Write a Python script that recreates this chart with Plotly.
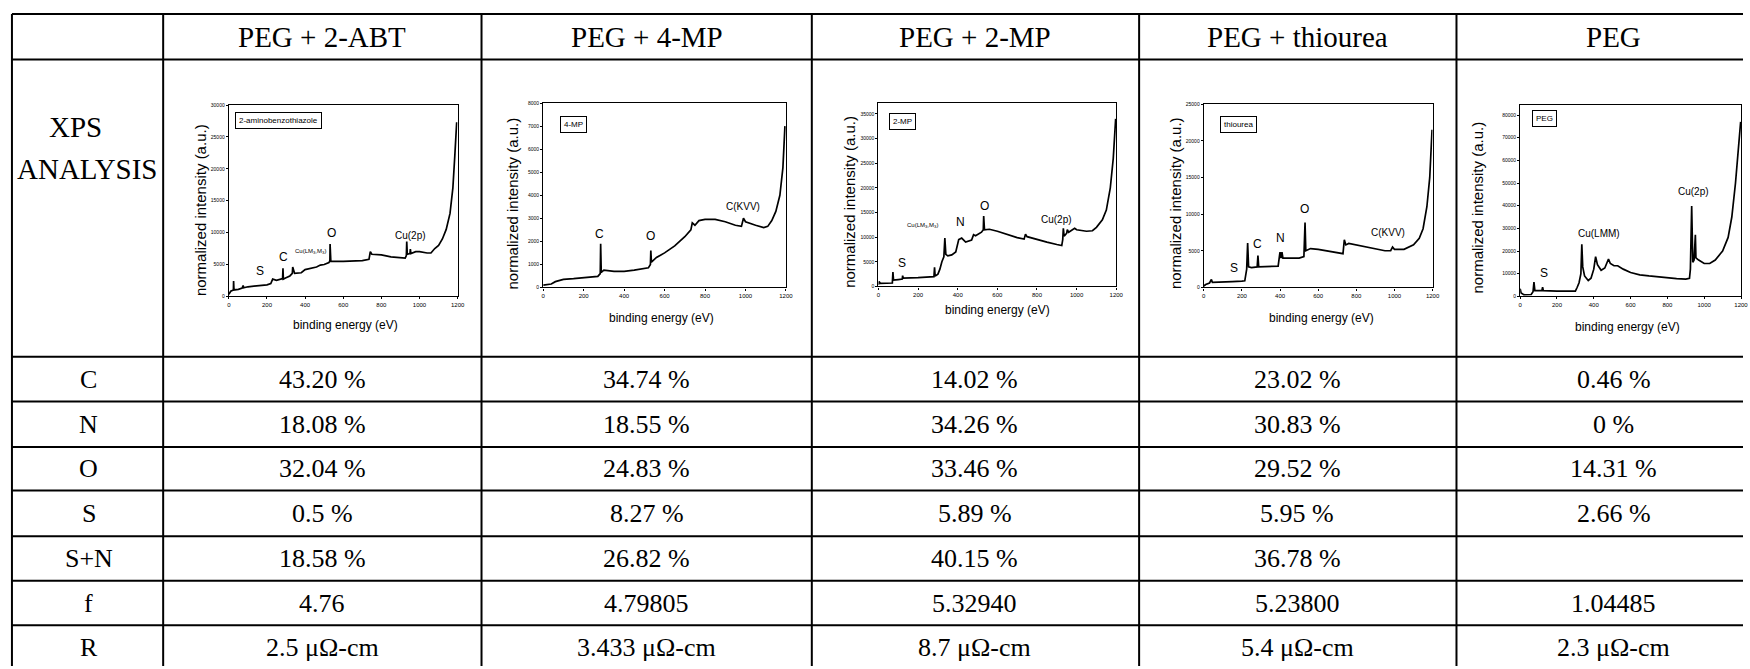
import plotly.graph_objects as go

W, H = 1750, 669

# ---------------- table data ----------------
col_headers = ["PEG + 2-ABT", "PEG + 4-MP", "PEG + 2-MP", "PEG + thiourea", "PEG"]
row_labels = ["C", "N", "O", "S", "S+N", "f", "R"]
C_vals = ["43.20 %", "34.74 %", "14.02 %", "23.02 %", "0.46 %"]
N_vals = ["18.08 %", "18.55 %", "34.26 %", "30.83 %", "0 %"]
O_vals = ["32.04 %", "24.83 %", "33.46 %", "29.52 %", "14.31 %"]
S_vals = ["0.5 %", "8.27 %", "5.89 %", "5.95 %", "2.66 %"]
SN_vals = ["18.58 %", "26.82 %", "40.15 %", "36.78 %", ""]
f_vals = ["4.76", "4.79805", "5.32940", "5.23800", "1.04485"]
R_vals = ["2.5 μΩ-cm", "3.433 μΩ-cm", "8.7 μΩ-cm", "5.4 μΩ-cm", "2.3 μΩ-cm"]
table_rows = [C_vals, N_vals, O_vals, S_vals, SN_vals, f_vals, R_vals]

# ---------------- XPS spectra (binding energy eV, intensity a.u.) ----------------
abt_x = [0, 10, 24, 25, 27, 50, 70, 75, 78, 100, 150, 200, 220, 230, 250, 270, 282, 284, 286,
         300, 320, 333, 335, 345, 380, 400, 430, 460, 480, 500, 525, 530, 531, 535, 600, 700,
         735, 742, 750, 800, 850, 900, 925, 931, 933, 936, 950, 952, 955, 980, 1000, 1040,
         1060, 1080, 1100, 1120, 1140, 1160, 1175, 1185, 1195]
abt_y = [300, 800, 1000, 2400, 1000, 1100, 1300, 1700, 1350, 1500, 1600, 1800, 2000, 2700,
         2500, 2700, 2800, 4400, 2700, 2900, 3200, 3600, 4600, 3600, 3700, 4200, 4400, 4600,
         4900, 5000, 5300, 5600, 8200, 5500, 5500, 5600, 5800, 7000, 6600, 6500, 6200, 6000,
         6000, 6400, 8600, 6600, 6700, 7400, 6700, 7000, 7000, 6800, 6800, 7500, 8000, 9000,
         10500, 13000, 17000, 22000, 27300]

mp4_x = [0, 20, 40, 60, 100, 150, 200, 250, 270, 282, 284, 287, 300, 350, 400, 450, 500, 520,
         530, 532, 535, 560, 600, 650, 700, 730, 737, 750, 770, 800, 850, 900, 950, 980, 990,
         1000, 1050, 1090, 1110, 1130, 1150, 1170, 1185, 1195]
mp4_y = [100, 120, 150, 250, 350, 380, 420, 450, 480, 600, 1890, 650, 750, 700, 700, 750, 800,
         850, 1000, 1600, 1100, 1300, 1500, 1800, 2200, 2500, 2800, 2700, 2900, 2950, 2950,
         2850, 2700, 2650, 3000, 2850, 2700, 2600, 2650, 2900, 3300, 4000, 5200, 7000]

mp2_x = [0, 3, 10, 50, 70, 73, 76, 100, 120, 122, 125, 200, 270, 280, 283, 286, 300, 310, 320,
         330, 335, 340, 350, 370, 390, 405, 420, 440, 470, 480, 490, 520, 529, 531, 535, 560,
         600, 650, 700, 735, 742, 750, 800, 850, 900, 925, 930, 933, 937, 950, 953, 960, 990,
         1000, 1050, 1080, 1100, 1130, 1150, 1170, 1185, 1197]
mp2_y = [300, 1000, 600, 600, 700, 2900, 1300, 1400, 1500, 2200, 1700, 1800, 1900, 2000, 3900,
         2100, 2500, 3500, 5000, 6000, 9800, 6500, 6200, 6400, 7000, 9500, 9800, 9000, 9400,
         10500, 10300, 11000, 11500, 14300, 11500, 11600, 11200, 10500, 9900, 9600, 10600,
         10100, 9500, 9000, 8500, 8300, 9500, 11800, 10200, 10800, 11500, 11000, 11800, 11500,
         11200, 11300, 12000, 13500, 15500, 20000, 26000, 34000]

thio_x = [0, 10, 30, 40, 45, 60, 100, 150, 200, 215, 225, 230, 235, 250, 280, 284, 288, 350,
          390, 398, 400, 405, 410, 415, 450, 500, 525, 531, 535, 560, 600, 650, 700, 730, 737,
          745, 760, 800, 850, 900, 950, 980, 990, 1000, 1050, 1100, 1130, 1150, 1170, 1185, 1197]
thio_y = [200, 400, 600, 1080, 700, 700, 800, 800, 850, 900, 2500, 6060, 2800, 2700, 2800,
          4350, 2800, 2800, 2900, 4500, 4800, 4000, 4800, 4000, 4000, 4000, 4200, 8850, 5000,
          5300, 5200, 5000, 4800, 4600, 6500, 5800, 6000, 5800, 5500, 5200, 5000, 5000, 5500,
          5200, 5200, 5800, 6700, 8000, 11000, 15000, 21500]

peg_x = [0, 5, 20, 60, 70, 75, 80, 100, 118, 122, 126, 200, 300, 310, 320, 330, 335, 340, 350,
         370, 385, 400, 410, 420, 440, 460, 480, 490, 510, 530, 560, 600, 650, 700, 750, 800,
         850, 900, 920, 925, 932, 938, 945, 952, 955, 970, 1000, 1030, 1060, 1090, 1100, 1130,
         1150, 1170, 1185, 1198]
peg_y = [3400, 1500, 700, 800, 2000, 6300, 2500, 2500, 2500, 4000, 2500, 2300, 2300, 4000,
         6000, 10000, 23000, 13000, 9000, 7000, 8000, 12000, 17500, 14000, 11500, 12500, 16500,
         14500, 13500, 13500, 12000, 10500, 9500, 9000, 8500, 8200, 7800, 7600, 8000, 12000,
         39900, 15000, 16000, 27200, 17000, 16000, 14500, 14500, 16000, 19000, 20000, 26000,
         35000, 50000, 65000, 77000]

spectra = [(abt_x, abt_y), (mp4_x, mp4_y), (mp2_x, mp2_y), (thio_x, thio_y), (peg_x, peg_y)]
legend_names = ["2-aminobenzothiazole", "4-MP", "2-MP", "thiourea", "PEG"]
y_tops = [30000, 8000, 37200, 25000, 84400]
y_dticks = [5000, 1000, 5000, 5000, 10000]

# peak labels: (text, eV, intensity)
peak_labels = [
    [("S", 165, 3900), ("C", 287, 6200), ("Cu(LM<sub>3</sub>,M<sub>3</sub>)", 430, 7000),
     ("O", 539, 10000), ("Cu(2p)", 951, 9600)],
    [("C", 280, 2340), ("O", 531, 2240), ("C(KVV)", 990, 3530)],
    [("S", 120, 4700), ("Cu(LM<sub>3</sub>,M<sub>3</sub>)", 221, 12400), ("N", 413, 13000),
     ("O", 536, 16300), ("Cu(2p)", 899, 13600)],
    [("S", 156, 2650), ("C", 284, 5900), ("N", 402, 6700), ("O", 529, 10700),
     ("C(KVV)", 966, 7500)],
    [("S", 132, 10200), ("Cu(LMM)", 430, 27700), ("Cu(2p)", 944, 46400)],
]

# ---------------- layout geometry (pixels) ----------------
col_x = [10, 162, 482, 814, 1143, 1462]
row_y = [11, 57, 357, 402, 448, 492, 538, 583, 628]
col_centers = [87, 322, 648, 978, 1302, 1620]
plot_boxes = [(228, 458, 103, 296), (544, 788, 101, 287), (881, 1120, 101, 286),
              (1208, 1438, 102, 287), (1526, 1748, 103, 296)]
ytitle_pos = [(199, 209), (513, 202), (852, 201), (1179, 202), (1483, 206)]
xtitle_pos = [(345, 325), (663, 318), (1001, 310), (1326, 318), (1634, 327)]
legend_pos = [(30, 28900), (82, 7460), (54, 35100), (85, 23400), (63, 82200)]


def px(x):
    return x / W


def py(y):
    return 1 - y / H


SERIF = "Liberation Serif"
SANS = "Liberation Sans"

fig = go.Figure()
layout = dict(width=W, height=H, autosize=False, margin=dict(l=0, r=0, t=0, b=0),
              paper_bgcolor="white", plot_bgcolor="white", showlegend=False)
annotations = []
shapes = []

for i, ((xs, ys), box) in enumerate(zip(spectra, plot_boxes)):
    n = i + 1
    xa = "x" if n == 1 else f"x{n}"
    ya = "y" if n == 1 else f"y{n}"
    fig.add_trace(go.Scatter(x=xs, y=ys, mode="lines", xaxis=xa, yaxis=ya,
                             line=dict(color="black", width=1.7), hoverinfo="skip"))
    x0, x1, y0, y1 = box
    axis_common = dict(showline=True, mirror=True, linecolor="black", linewidth=1.2,
                       showgrid=False, zeroline=False, ticks="outside", ticklen=2,
                       tickwidth=1, tickcolor="black")
    layout["xaxis" if n == 1 else f"xaxis{n}"] = dict(
        domain=[px(x0), px(x1)], range=[0, 1200], dtick=200, tick0=0,
        anchor=ya, tickfont=dict(family=SANS, size=6, color="black"), **axis_common)
    layout["yaxis" if n == 1 else f"yaxis{n}"] = dict(
        domain=[py(y1), py(y0)], range=[0, y_tops[i]], dtick=y_dticks[i], tick0=0,
        tickformat="d", anchor=xa, tickfont=dict(family=SANS, size=5, color="black"),
        **axis_common)
    # axis titles
    annotations.append(dict(text="normalized intensity (a.u.)", xref="paper", yref="paper",
                            x=px(ytitle_pos[i][0]), y=py(ytitle_pos[i][1]), showarrow=False,
                            textangle=-90, xanchor="center", yanchor="middle",
                            font=dict(family=SANS, size=15, color="black")))
    annotations.append(dict(text="binding energy (eV)", xref="paper", yref="paper",
                            x=px(xtitle_pos[i][0]), y=py(xtitle_pos[i][1]), showarrow=False,
                            xanchor="center", yanchor="middle",
                            font=dict(family=SANS, size=12, color="black")))
    # legend box
    lx, ly = legend_pos[i]
    annotations.append(dict(text=legend_names[i], xref=xa, yref=ya, x=lx, y=ly,
                            showarrow=False, xanchor="left", yanchor="top",
                            bordercolor="black", borderwidth=1, borderpad=3,
                            bgcolor="white",
                            font=dict(family=SANS, size=8, color="black")))
    # peak labels
    for (t, ex, ey) in peak_labels[i]:
        small = t.startswith("Cu(L") and "sub" in t
        size = 6 if small else (10 if len(t) > 1 else 12)
        annotations.append(dict(text=t, xref=xa, yref=ya, x=ex, y=ey, showarrow=False,
                                xanchor="center", yanchor="middle",
                                font=dict(family=SANS, size=size, color="black")))

# ---------------- table lines ----------------
for x in col_x:
    shapes.append(dict(type="line", xref="paper", yref="paper", x0=px(x), x1=px(x),
                       y0=py(row_y[0]), y1=0, line=dict(color="black", width=2)))
for y in row_y:
    shapes.append(dict(type="line", xref="paper", yref="paper", x0=px(col_x[0]), x1=1,
                       y0=py(y), y1=py(y), line=dict(color="black", width=2)))

# ---------------- table text ----------------
for j, h in enumerate(col_headers):
    annotations.append(dict(text=h, xref="paper", yref="paper", x=px(col_centers[j + 1]),
                            y=py((row_y[0] + row_y[1]) / 2), showarrow=False,
                            xanchor="center", yanchor="middle",
                            font=dict(family=SERIF, size=29, color="black")))
annotations.append(dict(text="XPS", xref="paper", yref="paper", x=px(74), y=py(125),
                        showarrow=False, xanchor="center", yanchor="middle",
                        font=dict(family=SERIF, size=29, color="black")))
annotations.append(dict(text="ANALYSIS", xref="paper", yref="paper", x=px(86), y=py(168),
                        showarrow=False, xanchor="center", yanchor="middle",
                        font=dict(family=SERIF, size=29, color="black")))

row_centers = [(row_y[k] + (row_y[k + 1] if k + 1 < len(row_y) else row_y[k] + 45)) / 2
               for k in range(2, len(row_y))]
for r, (lab, vals) in enumerate(zip(row_labels, table_rows)):
    yc = py(row_centers[r])
    annotations.append(dict(text=lab, xref="paper", yref="paper", x=px(col_centers[0]), y=yc,
                            showarrow=False, xanchor="center", yanchor="middle",
                            font=dict(family=SERIF, size=26, color="black")))
    for j, v in enumerate(vals):
        if not v:
            continue
        annotations.append(dict(text=v, xref="paper", yref="paper", x=px(col_centers[j + 1]),
                                y=yc, showarrow=False, xanchor="center", yanchor="middle",
                                font=dict(family=SERIF, size=26, color="black")))

layout["annotations"] = annotations
layout["shapes"] = shapes
fig.update_layout(**layout)
fig.write_html("out.html", config={"displayModeBar": False},
               post_script="document.body.style.margin='0';document.body.style.overflow='hidden';")
